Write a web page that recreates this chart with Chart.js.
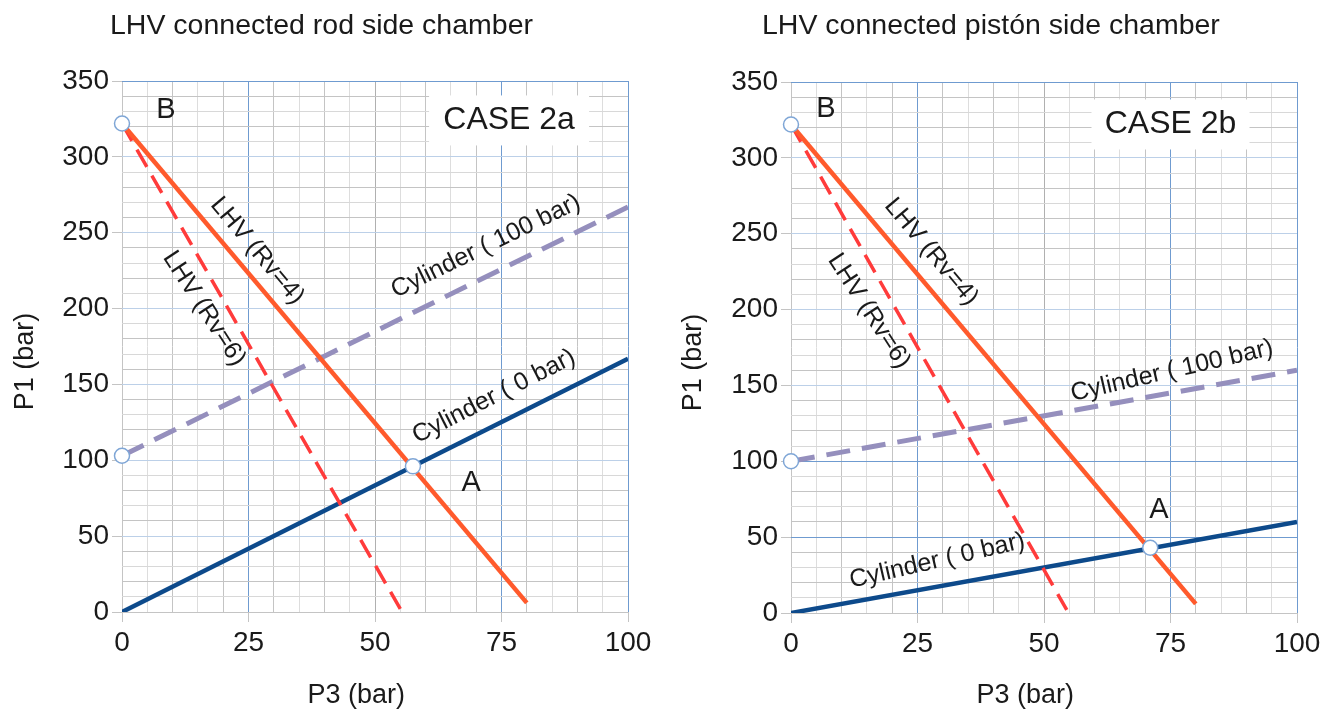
<!DOCTYPE html>
<html>
<head>
<meta charset="utf-8">
<script src="https://cdn.jsdelivr.net/npm/chart.js@4.4.1/dist/chart.umd.min.js"></script>
<style>
  body { margin: 0; background: #fff; width: 1336px; height: 715px; overflow: hidden; font-family: "Liberation Sans", Arial, sans-serif; }
  .panel { position: absolute; top: 0; width: 668px; height: 715px; }
  .ttl { position: absolute; top: 8px; font-size: 28.5px; color: #1a1a1a; white-space: nowrap; }
</style>
</head>
<body>
<div class="panel" style="left:0">
  <canvas id="chartA" width="668" height="715"></canvas>
  <div class="ttl" style="left:110px">LHV connected rod side chamber</div>
</div>
<div class="panel" style="left:668px">
  <canvas id="chartB" width="668" height="715"></canvas>
  <div class="ttl" style="left:94px">LHV connected pistón side chamber</div>
</div>
<script>
// axes
const xTicks = [0, 25, 50, 75, 100];
const yTicks = [0, 50, 100, 150, 200, 250, 300, 350];

// CASE 2a (rod side chamber)
const lhv4X_a = [0, 80],   lhv4Y_a = [322, 6];
const lhv6X_a = [0, 55],   lhv6Y_a = [322, 2];
const cyl100X_a = [0, 100], cyl100Y_a = [103, 267];
const cyl0X_a = [0, 100],   cyl0Y_a = [0, 167];
const markX_a = [0, 0, 57.5], markY_a = [322, 103, 96];

// CASE 2b (piston side chamber)
const lhv4X_b = [0, 80],   lhv4Y_b = [322, 6];
const lhv6X_b = [0, 54.5], lhv6Y_b = [322, 2];
const cyl100X_b = [0, 100], cyl100Y_b = [100, 160];
const cyl0X_b = [0, 100],   cyl0Y_b = [0, 60];
const markX_b = [0, 0, 71], markY_b = [322, 100, 43];

function pts(xs, ys) {
  return xs.map((v, i) => ({x: v, y: ys[i]}));
}

const TXT = '#1a1a1a';
const FONT = '"Liberation Sans", Arial, sans-serif';

// text drawn on the plot, placed in data units
const notesPlugin = {
  id: 'notes',
  afterDatasetsDraw(chart, args, opts) {
    const ctx = chart.ctx;
    const sx = chart.scales.x, sy = chart.scales.y;
    (opts.items || []).forEach(n => {
      const px = sx.getPixelForValue(n.x);
      const py = sy.getPixelForValue(n.y);
      ctx.save();
      ctx.font = n.size + 'px ' + FONT;
      if (n.box) {
        ctx.fillStyle = '#fff';
        ctx.fillRect(px - n.box[0] / 2, py - n.box[1] / 2, n.box[0], n.box[1]);
      }
      ctx.translate(px, py);
      ctx.rotate((n.angle || 0) * Math.PI / 180);
      ctx.fillStyle = TXT;
      ctx.textAlign = 'center';
      ctx.textBaseline = 'middle';
      ctx.fillText(n.text, 0, 0);
      ctx.restore();
    });
  }
};

function makeChart(id, d, notes, area, strongY) {
  const lineDs = (label, data, color, width, dash) => ({
    label: label, data: data, showLine: true, borderColor: color, borderWidth: width,
    borderDash: dash, pointRadius: 0, fill: false, borderCapStyle: 'butt'
  });
  new Chart(document.getElementById(id), {
    type: 'scatter',
    data: {
      datasets: [
        {label: 'points', data: d.marks, order: -1, pointRadius: 7.5, pointBorderWidth: 1.5,
         pointBackgroundColor: '#fff', pointBorderColor: '#7fa6d6', showLine: false, clip: false},
        lineDs('LHV (Rv=4)', d.lhv4, '#ff5a2c', 4.5, []),
        lineDs('LHV (Rv=6)', d.lhv6, '#ff3b3b', 3.5, [20, 10]),
        lineDs('Cylinder ( 100 bar)', d.cyl100, '#958fbd', 5, [24, 12]),
        lineDs('Cylinder ( 0 bar)', d.cyl0, '#0d4a8b', 4.5, [])
      ]
    },
    options: {
      responsive: false,
      animation: false,
      events: [],
      devicePixelRatio: 1,
      layout: {padding: {top: area.top, right: area.right, left: 0, bottom: 0}},
      plugins: {
        legend: {display: false},
        tooltip: {enabled: false},
        notes: {items: notes}
      },
      scales: {
        x: {
          type: 'linear', min: 0, max: 100,
          afterFit: s => { s.height = area.xh; },
          border: {display: false},
          grid: {
            tickLength: 10,
            color: c => {
              const v = c.tick.value;
              if (v === 25 || v === 75 || v === 100) return '#6f9bd0';
              if (v === 50) return '#b0b0b0';
              if (v % 10 === 0) return '#c4c4c4';
              return '#dddddd';
            },
            tickColor: c => xTicks.includes(c.tick.value) ? '#c4c4c4' : 'rgba(0,0,0,0)'
          },
          ticks: {
            stepSize: 5, autoSkip: false, maxRotation: 0, padding: 4, color: TXT,
            font: {family: FONT, size: 28},
            callback: v => xTicks.includes(v) ? v : ''
          },
          // trailing spaces nudge the centred title left, as in the original
          title: {display: true, text: 'P3 (bar)     ', color: TXT, font: {family: FONT, size: 27},
                  padding: {top: 0, bottom: 3}}
        },
        y: {
          type: 'linear', min: 0, max: 350,
          afterFit: s => { s.width = area.yw; },
          border: {display: false},
          grid: {
            tickLength: 10,
            color: c => {
              const v = c.tick.value;
              if (v === 350) return '#6f9bd0';
              if (strongY.includes(v)) return '#6f9bd0';
              if (v % 50 === 0 && v > 0) return '#bcd0e8';
              if (v % 20 === 0) return '#c4c4c4';
              return '#d8d8d8';
            },
            tickColor: c => yTicks.includes(c.tick.value) ? '#c4c4c4' : 'rgba(0,0,0,0)'
          },
          ticks: {
            stepSize: 10, autoSkip: false, padding: 3, color: TXT,
            font: {family: FONT, size: 28},
            callback: v => yTicks.includes(v) ? v : ''
          },
          title: {display: true, text: 'P1 (bar)    ', color: TXT, font: {family: FONT, size: 27},
                  padding: {top: 9, bottom: 0}}
        }
      }
    },
    plugins: [notesPlugin]
  });
}

makeChart('chartA', {
  lhv4: pts(lhv4X_a, lhv4Y_a),
  lhv6: pts(lhv6X_a, lhv6Y_a),
  cyl100: pts(cyl100X_a, cyl100Y_a),
  cyl0: pts(cyl0X_a, cyl0Y_a),
  marks: pts(markX_a, markY_a)
}, [
  {text: 'B', x: 8.7, y: 331, size: 29},
  {text: 'A', x: 69, y: 85, size: 29},
  {text: 'CASE 2a', x: 76.5, y: 324, size: 32, box: [160, 50]},
  {text: 'LHV (Rv=4)', x: 26.7, y: 238, size: 25, angle: 50},
  {text: 'LHV (Rv=6)', x: 16.2, y: 200, size: 25, angle: 57},
  {text: 'Cylinder ( 100 bar)', x: 71.9, y: 241, size: 25, angle: -26},
  {text: 'Cylinder ( 0 bar)', x: 73.5, y: 142, size: 25, angle: -27}
], {top: 81, right: 40, yw: 122, xh: 103}, []);

makeChart('chartB', {
  lhv4: pts(lhv4X_b, lhv4Y_b),
  lhv6: pts(lhv6X_b, lhv6Y_b),
  cyl100: pts(cyl100X_b, cyl100Y_b),
  cyl0: pts(cyl0X_b, cyl0Y_b),
  marks: pts(markX_b, markY_b)
}, [
  {text: 'B', x: 6.9, y: 332, size: 29},
  {text: 'A', x: 72.7, y: 68, size: 29},
  {text: 'CASE 2b', x: 75, y: 322, size: 32, box: [158, 50]},
  {text: 'LHV (Rv=4)', x: 27.7, y: 238, size: 25, angle: 50},
  {text: 'LHV (Rv=6)', x: 15.4, y: 199, size: 25, angle: 57},
  {text: 'Cylinder ( 100 bar)', x: 75.3, y: 159.5, size: 25, angle: -13},
  {text: 'Cylinder ( 0 bar)', x: 28.9, y: 34.3, size: 25, angle: -13}
], {top: 82, right: 39, yw: 123, xh: 102}, [50, 100]);
</script>
</body>
</html>
